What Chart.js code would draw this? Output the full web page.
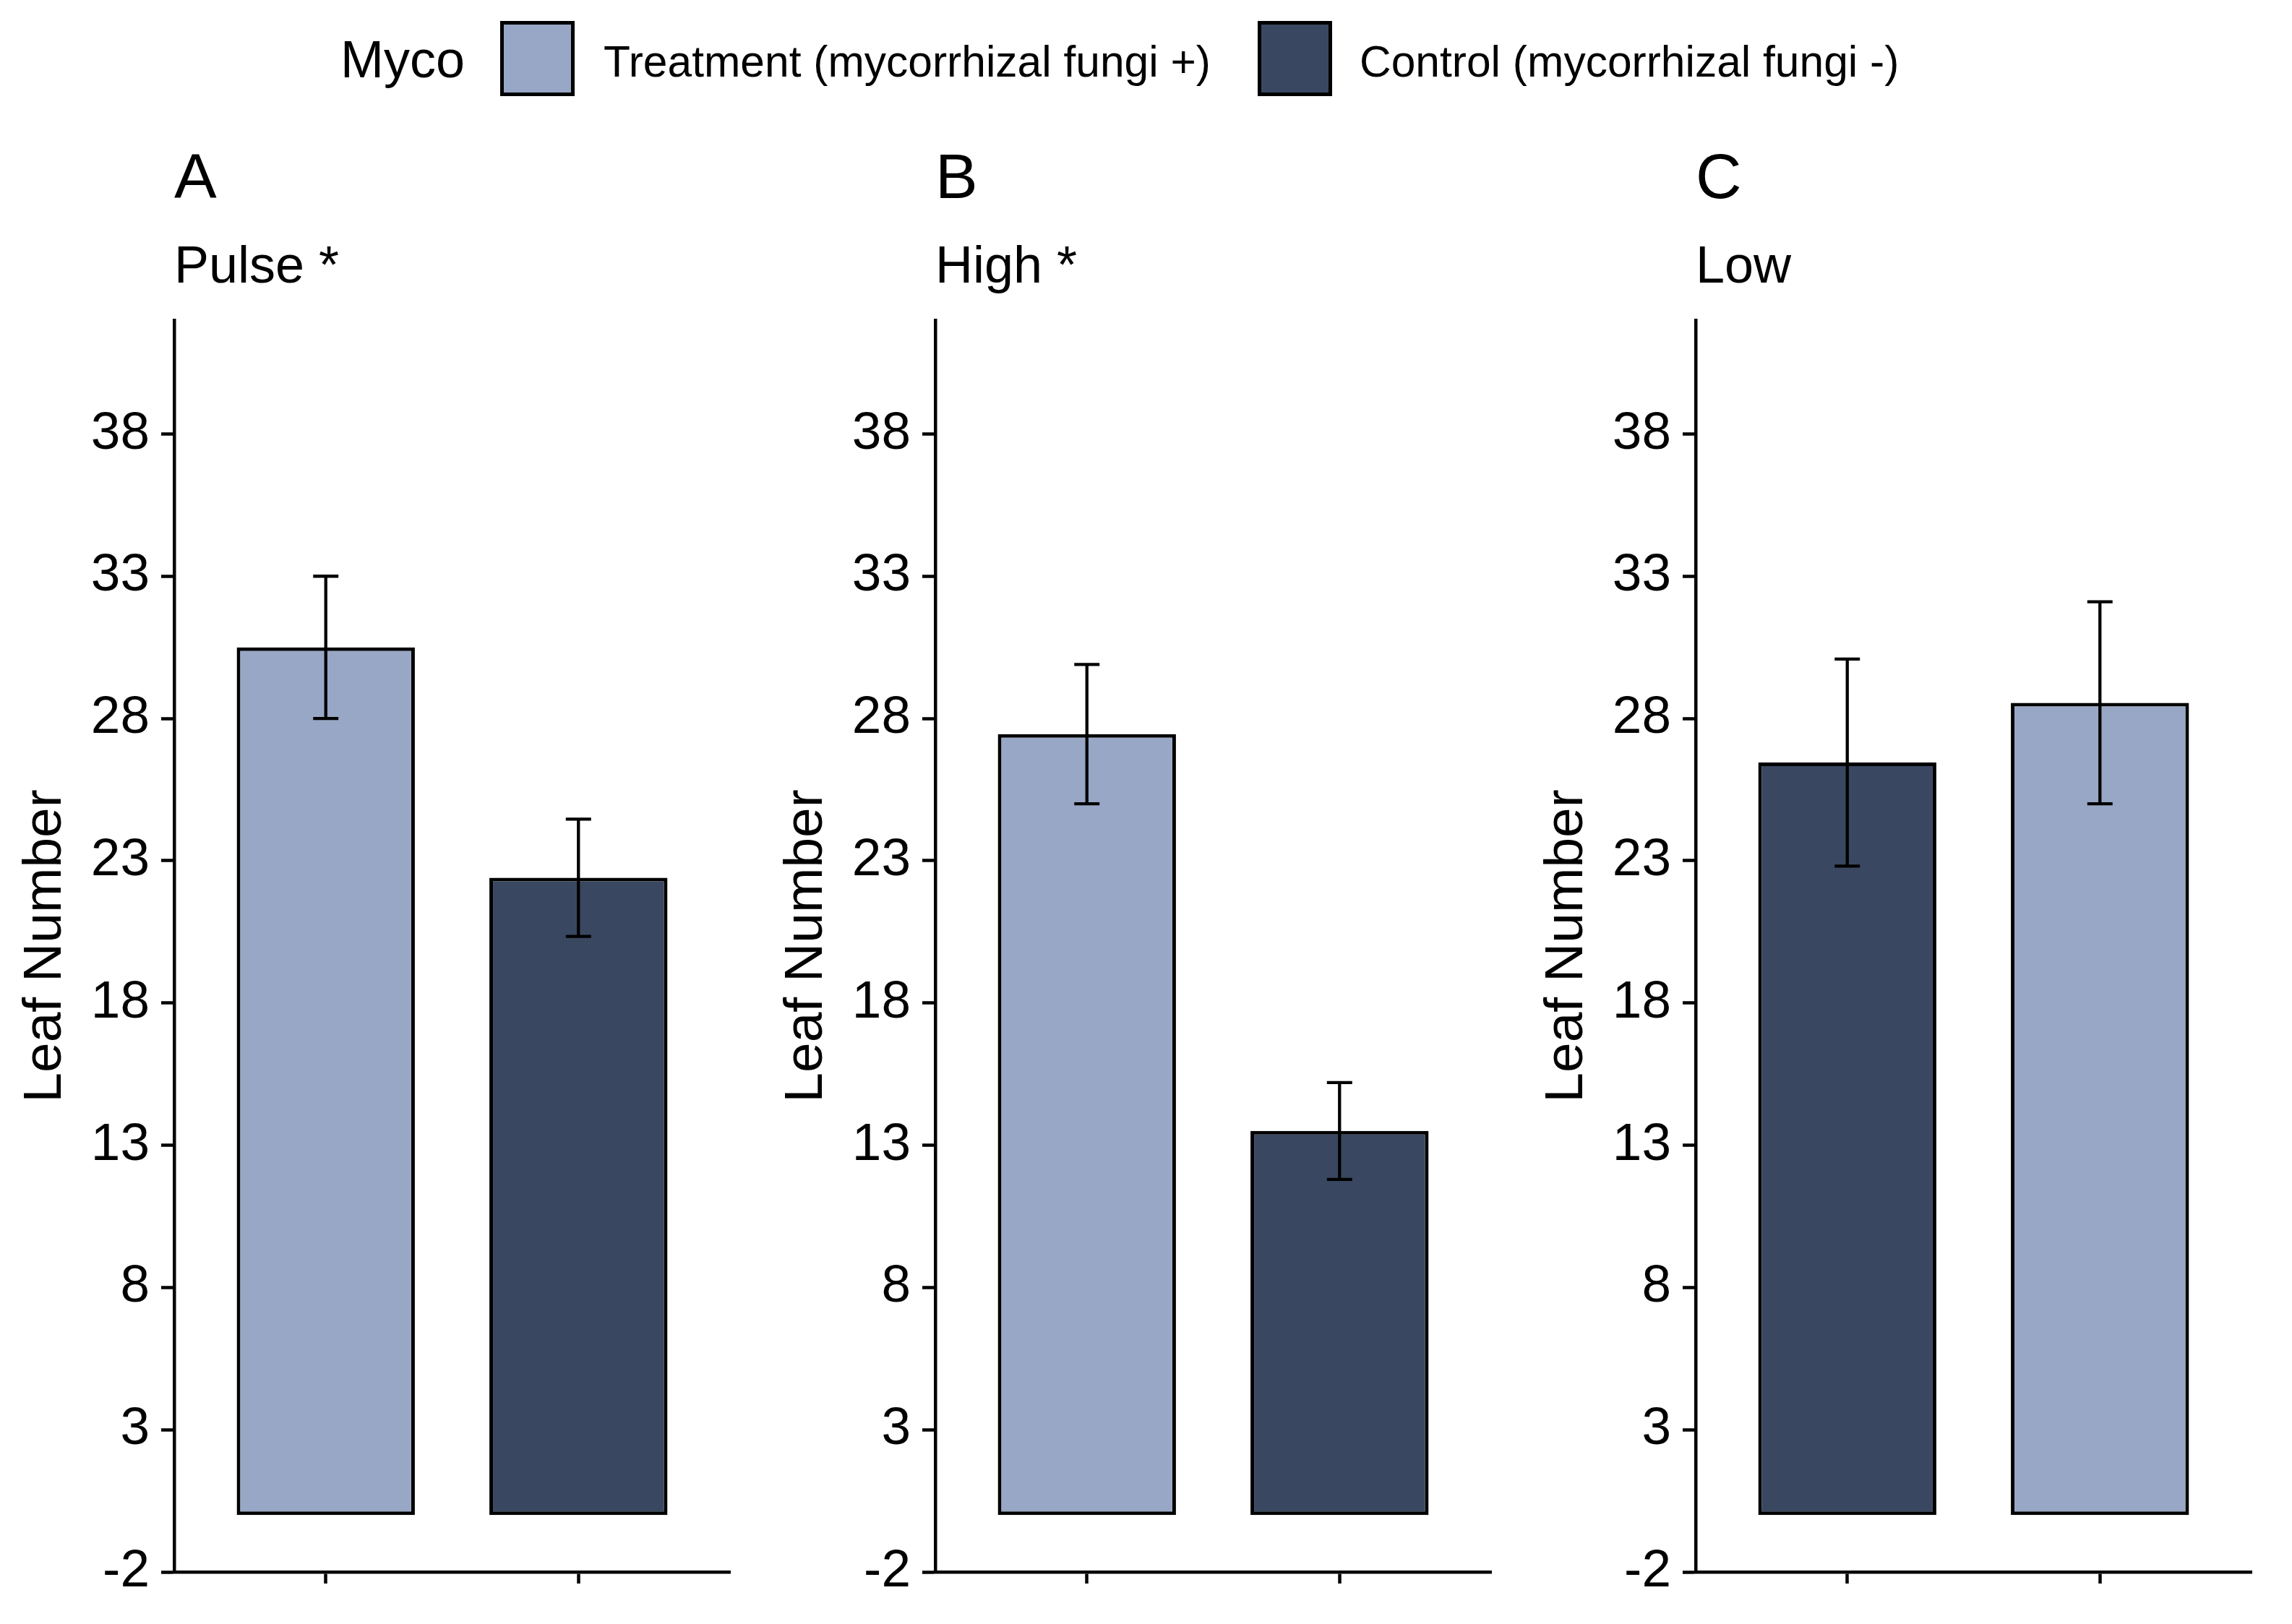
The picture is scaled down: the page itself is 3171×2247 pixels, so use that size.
<!DOCTYPE html>
<html>
<head>
<meta charset="utf-8">
<script src="https://cdn.jsdelivr.net/npm/chart.js@4/dist/chart.umd.min.js"></script>
<style>
  html, body { margin: 0; padding: 0; background: #ffffff; width: 3171px; height: 2247px; overflow: hidden; }
  #wrap { position: relative; width: 3171px; height: 2247px; background: #ffffff; }
  .panel { position: absolute; top: 0; }
  .lg { position: absolute; font-family: "Liberation Sans", Arial, sans-serif; color: #000; white-space: nowrap; }
  .key { position: absolute; box-sizing: border-box; border: 5px solid #000; }
</style>
</head>
<body>
<div id="wrap"></div>
<script>
// ---------------- data ----------------
const panelLetters = ['A', 'B', 'C'];
const panelConditions = ['Pulse *', 'High *', 'Low'];
const barOrder = [['Treatment', 'Control'], ['Treatment', 'Control'], ['Control', 'Treatment']];
const treatmentMeans = [30.5, 27.45, 28.55];
const treatmentSE = [2.5, 2.45, 3.55];
const controlMeans = [22.4, 13.5, 26.45];
const controlSE = [2.06, 1.7, 3.64];
const xPositions = [1, 2];
const yTickValues = [-2, 3, 8, 13, 18, 23, 28, 33, 38];
const legendTitle = 'Myco';
const legendGroups = ['Treatment', 'Control'];
const legendLabels = ['Treatment (mycorrhizal fungi +)', 'Control (mycorrhizal fungi -)'];
const yAxisTitle = 'Leaf Number';

// ---------------- styles ----------------
const FONT = '"Liberation Sans", Arial, sans-serif';
const groupColors = { Treatment: '#98A7C5', Control: '#394860' };
const panelLeft = [0, 1053, 2105];
const CW = 1053, CH = 2247;

const wrap = document.getElementById('wrap');

// ---------------- legend (HTML) ----------------
function addText(txt, left, top, size) {
  const d = document.createElement('div');
  d.className = 'lg';
  d.textContent = txt;
  d.style.left = left + 'px';
  d.style.top = top + 'px';
  d.style.fontSize = size + 'px';
  d.style.lineHeight = size + 'px';
  wrap.appendChild(d);
}
function addKey(left, top, color) {
  const d = document.createElement('div');
  d.className = 'key';
  d.style.left = left + 'px';
  d.style.top = top + 'px';
  d.style.width = '103px';
  d.style.height = '104px';
  d.style.background = color;
  wrap.appendChild(d);
}
addText(legendTitle, 471, 46, 72);
const keyLefts = [692, 1740];
const labelLefts = [835, 1881];
legendGroups.forEach((g, i) => {
  addKey(keyLefts[i], 29, groupColors[g]);
  addText(legendLabels[i], labelLefts[i], 55, 60.5);
});

// ---------------- error bar plugin ----------------
const errorBarPlugin = {
  id: 'errorBars',
  afterDatasetsDraw(chart, args, opts) {
    const ctx = chart.ctx;
    const xs = chart.scales.x, ys = chart.scales.y;
    chart.data.datasets.forEach(ds => {
      ds.data.forEach((pt, j) => {
        const se = ds.errors[j];
        const cx = xs.getPixelForValue(pt.x);
        const hw = xs.getPixelForValue(pt.x + opts.capWidth / 2) - cx;
        const yTop = ys.getPixelForValue(pt.y + se);
        const yBot = ys.getPixelForValue(pt.y - se);
        ctx.save();
        ctx.strokeStyle = '#000';
        ctx.lineWidth = opts.lineWidth;
        ctx.lineCap = 'butt';
        ctx.beginPath();
        ctx.moveTo(cx, yTop); ctx.lineTo(cx, yBot);
        ctx.moveTo(cx - hw, yTop); ctx.lineTo(cx + hw, yTop);
        ctx.moveTo(cx - hw, yBot); ctx.lineTo(cx + hw, yBot);
        ctx.stroke();
        ctx.restore();
      });
    });
  }
};

// ---------------- panels ----------------
panelLetters.forEach((letter, i) => {
  const c = document.createElement('canvas');
  c.className = 'panel';
  c.width = CW; c.height = CH;
  c.style.left = panelLeft[i] + 'px';
  c.style.width = CW + 'px'; c.style.height = CH + 'px';
  wrap.appendChild(c);

  const order = barOrder[i];
  const values = order.map(g => g === 'Treatment' ? treatmentMeans[i] : controlMeans[i]);
  const errs = order.map(g => g === 'Treatment' ? treatmentSE[i] : controlSE[i]);

  new Chart(c.getContext('2d'), {
    type: 'bar',
    data: {
      datasets: [{
        data: xPositions.map((x, j) => ({ x: x, y: values[j] })),
        errors: errs,
        backgroundColor: order.map(g => groupColors[g]),
        borderColor: '#000',
        borderWidth: 5,
        borderSkipped: false,
        barPercentage: 0.705,
        categoryPercentage: 1.0
      }]
    },
    options: {
      responsive: false,
      animation: false,
      devicePixelRatio: 1,
      layout: { padding: { left: 0, right: 43, top: 0, bottom: 0 } },
      plugins: {
        legend: { display: false },
        tooltip: { enabled: false },
        title: {
          display: true, text: letter, align: 'start', fullSize: false, color: '#000',
          font: { family: FONT, size: 88, weight: 'normal', lineHeight: 1 },
          padding: { top: 206, bottom: 0 }
        },
        subtitle: {
          display: true, text: panelConditions[i], align: 'start', fullSize: false, color: '#000',
          font: { family: FONT, size: 72, weight: 'normal', lineHeight: 1 },
          padding: { top: 41, bottom: 36 }
        },
        errorBars: { capWidth: 0.1, lineWidth: 4.3 }
      },
      scales: {
        x: {
          type: 'linear', min: 0.4, max: 2.6, offset: false,
          grid: { display: true, offset: false, drawOnChartArea: false, drawTicks: true, tickLength: 16, tickWidth: 4.5, tickColor: '#000' },
          border: { display: true, color: '#000', width: 4.5 },
          ticks: { display: false },
          afterBuildTicks: s => { s.ticks = xPositions.map(v => ({ value: v })); },
          afterFit: s => { s.height = 72; }
        },
        y: {
          type: 'linear', min: -2, max: 42,
          grid: { display: true, drawOnChartArea: false, drawTicks: true, tickLength: 18, tickWidth: 4.5, tickColor: '#000' },
          border: { display: true, color: '#000', width: 4.5 },
          ticks: { color: '#000', font: { family: FONT, size: 73 }, padding: 16, autoSkip: false },
          afterBuildTicks: s => { s.ticks = yTickValues.map(v => ({ value: v })); },
          title: {
            display: true, text: yAxisTitle, color: '#000',
            font: { family: FONT, size: 75, lineHeight: 1.2 },
            padding: { top: 18, bottom: 0 }
          },
          afterFit: s => { s.width = 241; }
        }
      }
    },
    plugins: [errorBarPlugin]
  });
});
</script>
</body>
</html>
